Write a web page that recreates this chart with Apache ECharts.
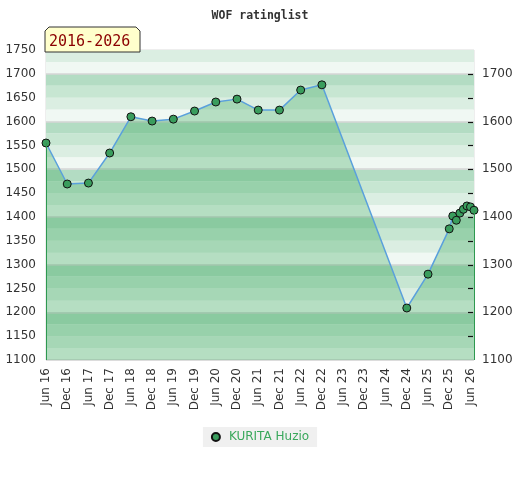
<!DOCTYPE html>
<html>
<head>
<meta charset="utf-8">
<script src="https://cdn.jsdelivr.net/npm/echarts@6/dist/echarts.min.js"></script>
<style>
  html, body { margin: 0; padding: 0; background: #fff; }
  #chart { width: 520px; height: 480px; }
</style>
</head>
<body>
<div id="chart"></div>
<script>
// rating list entries (year-month) and ratings
var dates = ['2016-06', '2016-12', '2017-06', '2017-12', '2018-06', '2018-12', '2019-06', '2019-12',
  '2020-06', '2020-12', '2021-06', '2021-12', '2022-06', '2022-12', '2024-12', '2025-06',
  '2025-12', '2026-01', '2026-02', '2026-03', '2026-04', '2026-05', '2026-06', '2026-07'];
var ratings = [1555, 1469, 1471, 1534, 1610, 1601, 1605, 1622,
  1641, 1647, 1624, 1624, 1666, 1677, 1209, 1280,
  1375, 1402, 1393, 1408, 1416, 1423, 1421, 1414];
var monthNames = ['Jan', 'Feb', 'Mar', 'Apr', 'May', 'Jun', 'Jul', 'Aug', 'Sep', 'Oct', 'Nov', 'Dec'];

var startYear = 2016, startMonth = 6;
var yMin = 1100, yMax = 1750;
var rightTicks = [1150, 1200, 1250, 1300, 1350, 1400, 1450, 1500, 1550, 1600, 1650, 1700];

// months since Jun 2016
function monthIndex(d) {
  var p = d.split('-');
  return (parseInt(p[0], 10) - startYear) * 12 + (parseInt(p[1], 10) - startMonth);
}
var points = dates.map(function (d, i) { return [monthIndex(d), ratings[i]]; });
var lastX = points[points.length - 1][0];

var chart = echarts.init(document.getElementById('chart'));

var option = {
  backgroundColor: '#fff',
  animation: false,
  title: {
    text: 'WOF ratinglist',
    left: 'center',
    top: 5,
    textStyle: { fontFamily: 'DejaVu Sans Mono', fontSize: 11.5, fontWeight: 'bold', color: '#333' }
  },
  grid: {
    top: 50, bottom: 120, left: 46, right: 46,
    show: true, borderColor: '#ddd', borderWidth: 1, backgroundColor: 'transparent'
  },
  legend: {
    top: 427,
    left: 'center',
    backgroundColor: '#f0f0f0',
    padding: [4, 8, 4, 8],
    itemWidth: 8,
    itemHeight: 8,
    icon: 'circle',
    textStyle: { color: '#3aa85c', fontSize: 12, fontFamily: 'DejaVu Sans', padding: [0, 0, 0, 4] },
    data: ['KURITA Huzio']
  },
  xAxis: {
    type: 'value',
    min: 0,
    max: lastX,
    interval: 6,
    axisLine: { show: false },
    axisTick: { show: false },
    splitLine: { show: false },
    axisLabel: {
      rotate: 90,
      color: '#333',
      fontSize: 12,
      fontFamily: 'DejaVu Sans',
      margin: 8,
      showMaxLabel: false,
      formatter: function (v) {
        var m = (startMonth - 1 + v) % 12;
        var y = startYear + Math.floor((startMonth - 1 + v) / 12);
        return monthNames[m] + ' ' + String(y).slice(2);
      }
    }
  },
  yAxis: [
    {
      // labels every 50, background bands every 25, grid lines every 100
      type: 'value', position: 'left', min: yMin, max: yMax, interval: 25,
      axisLine: { show: false }, axisTick: { show: false },
      axisLabel: {
        color: '#333', fontSize: 12, fontFamily: 'DejaVu Sans', margin: 10,
        formatter: function (v) { return v % 50 === 0 ? String(v) : ''; }
      },
      splitArea: {
        show: true,
        areaStyle: { color: ['#f0f8f3', '#dbeee2', '#c7e6d2', '#b3dcc3'] }
      },
      splitLine: {
        show: true,
        lineStyle: { color: ['#d6d6d6', 'transparent', 'transparent', 'transparent'], width: 1.5 }
      }
    },
    {
      type: 'value', position: 'right', min: yMin, max: yMax, interval: 50,
      axisLine: { show: false },
      splitLine: { show: false },
      axisTick: { show: false },
      axisLabel: {
        color: '#333', fontSize: 12, fontFamily: 'DejaVu Sans', margin: 8,
        formatter: function (v) { return v % 100 === 0 ? String(v) : ''; }
      }
    }
  ],
  series: [
    {
      name: 'KURITA Huzio',
      type: 'line',
      yAxisIndex: 0,
      data: points,
      symbol: 'circle',
      symbolSize: 8,
      showAllSymbol: true,
      lineStyle: { color: '#5aa0dc', width: 1.5 },
      itemStyle: { color: '#3a9d5d', borderColor: '#111', borderWidth: 1 },
      areaStyle: { color: 'rgba(40,159,77,0.42)', origin: 'start' },
      markLine: {
        silent: true,
        symbol: 'none',
        label: { show: false },
        lineStyle: { color: '#2e9950', width: 1, type: 'solid' },
        data: [
          [{ coord: [points[0][0], yMin] }, { coord: [points[0][0], points[0][1]] }],
          [{ coord: [lastX, yMin] }, { coord: [lastX, points[points.length - 1][1]] }]
        ]
      }
    }
  ],
  graphic: [
    {
      type: 'polygon',
      z: 100,
      shape: { points: [[45, 52], [45, 31], [49, 27], [136, 27], [140, 31], [140, 52]] },
      style: { fill: '#ffffcc', stroke: '#333', lineWidth: 1 }
    },
    {
      type: 'text',
      z: 101,
      left: 49,
      top: 35,
      style: {
        text: '2016-2026',
        fill: '#8b0000',
        font: '15px "DejaVu Sans Mono"'
      }
    }
  ]
};

chart.setOption(option);

// right-axis tick marks, placed through the grid's scales
var tickMarks = rightTicks.map(function (v) {
  var p = chart.convertToPixel({ gridIndex: 0 }, [lastX, v]);
  var x = p[0], y = Math.round(p[1]) + 0.5;
  return {
    type: 'line',
    z: 200,
    shape: { x1: x - 6, y1: y, x2: x - 1, y2: y },
    style: { stroke: '#111', lineWidth: 1.2 }
  };
});
chart.setOption({ graphic: { elements: option.graphic.concat(tickMarks) } });
</script>
</body>
</html>
